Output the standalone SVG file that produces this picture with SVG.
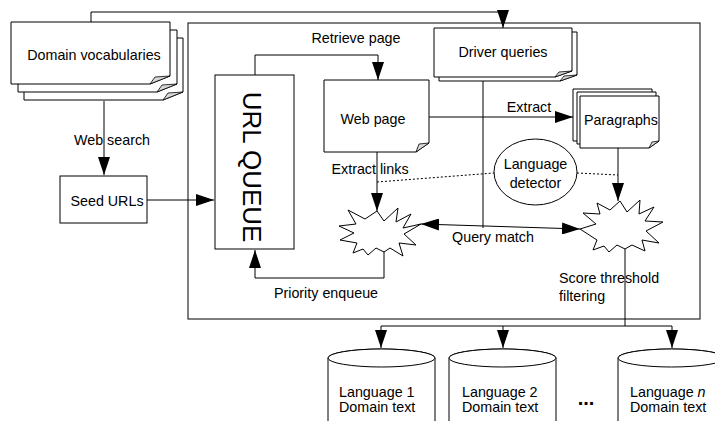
<svg xmlns="http://www.w3.org/2000/svg" width="715" height="421" viewBox="0 0 715 421">
<style>
  text { font-family: "Liberation Sans", Arial, sans-serif; font-size: 14.3px; fill: #000; }
  .shape { fill: #fff; stroke: #000; stroke-width: 1; }
  .fold { fill: #d8d8d8; stroke: #000; stroke-width: 0.8; stroke-linejoin: round; }
  .line { fill: none; stroke: #000; stroke-width: 1; }
  .dot { fill: none; stroke: #000; stroke-width: 1; stroke-dasharray: 2 2; }
  .mid { text-anchor: middle; }
</style>
<defs>
  <marker id="arrow" markerUnits="userSpaceOnUse" markerWidth="18" markerHeight="12" refX="18" refY="6" orient="auto-start-reverse">
    <path d="M0,0 L18,6 L0,12 Z" fill="#000"/>
  </marker>
</defs>

<rect id="outer-box" class="shape" x="188" y="23" width="512" height="296"/>

<g id="connectors">
  <path class="line" d="M91,22 V12 H503 V28" marker-end="url(#arrow)"/>
  <path class="line" d="M104,101 V175" marker-end="url(#arrow)"/>
  <path class="line" d="M147,200 H214" marker-end="url(#arrow)"/>
  <path class="line" d="M255,75 V55 H378 V80" marker-end="url(#arrow)"/>
  <path class="line" d="M429,117 H573" marker-end="url(#arrow)"/>
  <path class="line" d="M377,152 V211" marker-end="url(#arrow)"/>
  <path class="line" d="M483,81 V228"/>
  <path class="line" d="M421,224 L580,229" marker-start="url(#arrow)" marker-end="url(#arrow)"/>
  <path class="line" d="M384,250 V278 H255 V250" marker-end="url(#arrow)"/>
  <path class="line" d="M618,148 V201" marker-end="url(#arrow)"/>
  <path class="line" d="M625,244 V326"/>
  <path class="line" d="M381,348 V326 H672 V348" marker-start="url(#arrow)" marker-end="url(#arrow)"/>
  <path class="line" d="M503,326 V348" marker-end="url(#arrow)"/>
  <path class="dot" d="M377,182 L494,173"/>
  <path class="dot" d="M577,173 L618,175"/>
  <text x="112" y="145" class="mid">Web search</text>
  <text x="356" y="43" class="mid">Retrieve page</text>
  <text x="529" y="112" class="mid">Extract</text>
  <text x="370" y="174" class="mid">Extract links</text>
  <text x="493" y="242" class="mid">Query match</text>
  <text x="326" y="298" class="mid">Priority enqueue</text>
  <text x="559" y="283">Score threshold</text>
  <text x="559" y="301">filtering</text>
</g>

<g id="domain-vocabularies">
  <path class="shape" d="M24,38 H183 V92 L163,100 H24 Z"/>
  <path class="fold" d="M163,100 L168,93 L183,92 Z"/>
  <path class="shape" d="M18,30 H177 V84 L157,92 H18 Z"/>
  <path class="fold" d="M157,92 L162,85 L177,84 Z"/>
  <path class="shape" d="M11,22 H170 V76 L150,84 H11 Z"/>
  <path class="fold" d="M150,84 L155,77 L170,76 Z"/>
  <text x="94" y="60" class="mid">Domain vocabularies</text>
</g>

<g id="seed-urls">
  <rect class="shape" x="60" y="176" width="87" height="47"/>
  <text x="107" y="206" class="mid">Seed URLs</text>
</g>

<g id="url-queue">
  <rect class="shape" x="215" y="75" width="79" height="174"/>
  <text transform="translate(243,167) rotate(90)" class="mid" style="font-size:26px">URL QUEUE</text>
</g>

<g id="web-page">
  <path class="shape" d="M324,80 H429 V143 L416,152 H324 Z"/>
  <path class="fold" d="M416,152 L419,144 L429,143 Z"/>
  <text x="373" y="124" class="mid">Web page</text>
</g>

<g id="driver-queries">
  <path class="shape" d="M439,32 H577 V75 L560,81 H439 Z"/>
  <path class="fold" d="M560,81 L564,76 L577,75 Z"/>
  <path class="shape" d="M434,28 H572 V71 L555,77 H434 Z"/>
  <path class="fold" d="M555,77 L559,72 L572,71 Z"/>
  <text x="503" y="57" class="mid">Driver queries</text>
</g>

<g id="paragraphs">
  <path class="shape" d="M573,89 H652 V134 L642,141 H573 Z"/>
  <path class="shape" d="M577,92 H656 V137 L646,144 H577 Z"/>
  <path class="shape" d="M580,96 H659 V141 L649,148 H580 Z"/>
  <path class="fold" d="M649,148 L652,142 L659,141 Z"/>
  <text x="621" y="125" class="mid">Paragraphs</text>
</g>

<g id="language-detector">
  <ellipse class="shape" cx="535.5" cy="172" rx="41.5" ry="33"/>
  <text x="535.5" y="169" class="mid">Language</text>
  <text x="535.5" y="188" class="mid">detector</text>
</g>

<g id="link-filter">
  <polygon class="shape" points="377,211 384,221 398,208 396,222 411,214 403,228 421,224 404,234 416,245 399,243 403,256 390,248 384,252 376,248 368,255 363,249 353,253 357,243 340,240 354,233 339,226 356,224 348,210 365,219"/>
</g>

<g id="score-filter">
  <polygon class="shape" points="620,201 627,212 640,200 639,214 654,207 645,221 663,222 646,231 659,243 642,240 645,251 632,245 625,249 617,245 609,252 604,246 593,250 597,240 580,229 596,224 583,213 600,214 597,203 610,210"/>
</g>

<g id="language-1">
  <path class="shape" d="M328,358 A53.5,9 0 0 1 435,358 V430 H328 Z"/>
  <ellipse class="shape" cx="381.5" cy="358" rx="53.5" ry="9"/>
  <text x="339" y="397">Language 1</text>
  <text x="339" y="412">Domain text</text>
</g>

<g id="language-2">
  <path class="shape" d="M449,358 A53.5,9 0 0 1 556,358 V430 H449 Z"/>
  <ellipse class="shape" cx="502.5" cy="358" rx="53.5" ry="9"/>
  <text x="462" y="397">Language 2</text>
  <text x="462" y="412">Domain text</text>
</g>

<g id="ellipsis">
  <text x="586" y="405" class="mid" style="font-weight:bold;font-size:20px">...</text>
</g>

<g id="language-n">
  <path class="shape" d="M618,358 A53.5,9 0 0 1 725,358 V430 H618 Z"/>
  <ellipse class="shape" cx="671.5" cy="358" rx="53.5" ry="9"/>
  <text x="630" y="397">Language <tspan font-style="italic">n</tspan></text>
  <text x="630" y="412">Domain text</text>
</g>
</svg>
